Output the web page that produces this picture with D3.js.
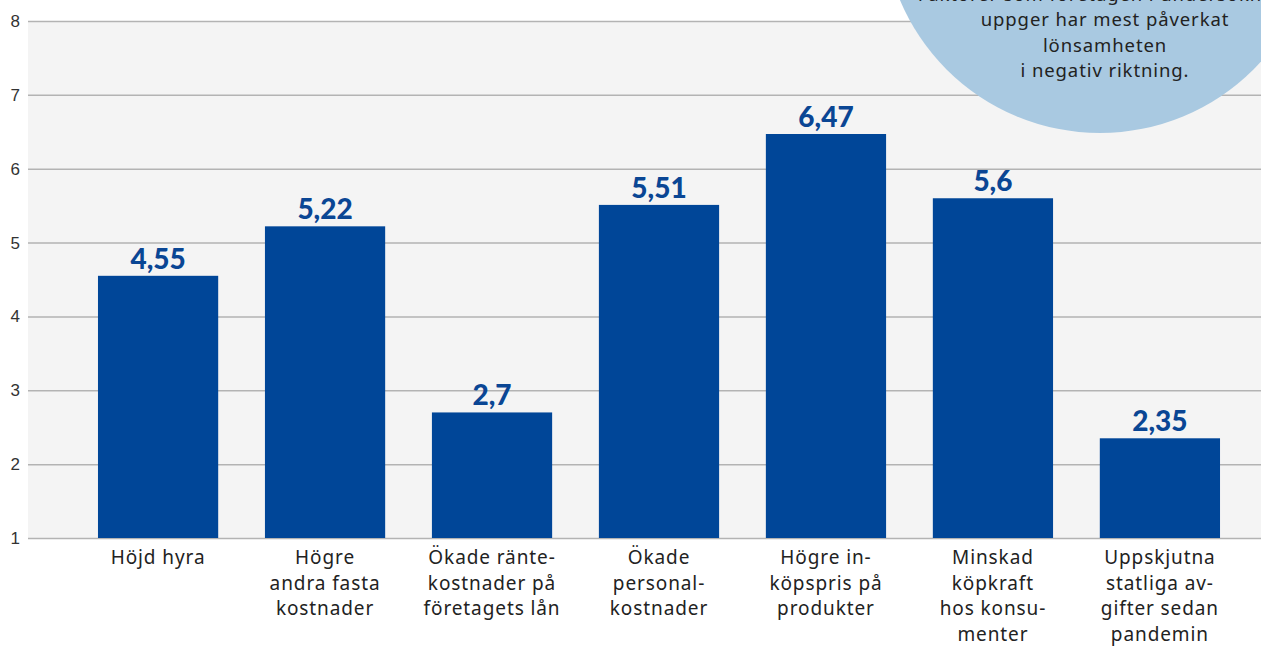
<!DOCTYPE html>
<html>
<head>
<meta charset="utf-8">
<script src="https://cdn.jsdelivr.net/npm/d3@7"></script>
<style>
  body { margin: 0; background: #fff; }
  svg { display: block; font-family: 'Noto Sans', Lato, sans-serif; }
</style>
</head>
<body>
<svg id="chart"></svg>
<script>
const categories = [
  ['Höjd hyra'],
  ['Högre', 'andra fasta', 'kostnader'],
  ['Ökade ränte-', 'kostnader på', 'företagets lån'],
  ['Ökade', 'personal-', 'kostnader'],
  ['Högre in-', 'köpspris på', 'produkter'],
  ['Minskad', 'köpkraft', 'hos konsu-', 'menter'],
  ['Uppskjutna', 'statliga av-', 'gifter sedan', 'pandemin']
]
const values = [4.55, 5.22, 2.7, 5.51, 6.47, 5.6, 2.35]
const yTicks = [1, 2, 3, 4, 5, 6, 7, 8]
const bubbleLines = ['Faktorer som företagen i undersökning', 'uppger har mest påverkat', 'lönsamheten', 'i negativ riktning.']

let width = 1261
let height = 648
let plotLeft = 28
let plotTop = 21
let plotBottom = 538

let svg = d3.select('#chart')
  .attr('width', width)
  .attr('height', height)

let ids = categories.map((c, i) => i)

/* Band scale for the bars */
let xScale = d3.scaleBand()
  .domain(ids)
  .range([74.6, 1243.4])
  .paddingInner(0.28)
  .paddingOuter(0.14)

let yScale = d3.scaleLinear()
  .domain([1, 8])
  .range([plotBottom, plotTop])

/* Plot background */
svg.append('rect')
  .attr('x', plotLeft)
  .attr('y', plotTop)
  .attr('width', width - plotLeft)
  .attr('height', plotBottom - plotTop)
  .attr('fill', '#f4f4f4')

/* y-axis with gridlines */
let yAxis = d3.axisLeft(yScale)
  .tickValues(yTicks)
  .tickSize(-(width - plotLeft))
  .tickFormat(d3.format('d'))

let gy = svg.append('g')
  .attr('transform', `translate(${plotLeft}, 0)`)
  .call(yAxis)
gy.select('.domain').remove()
gy.selectAll('.tick line')
  .attr('stroke', '#b3b3b3')
  .attr('stroke-width', 1.5)
gy.selectAll('.tick text')
  .attr('x', -8)
  .attr('fill', '#333')
  .style('font-size', '17px')

/* Bars */
svg.selectAll('rect.bar')
  .data(values)
  .enter()
  .append('rect')
    .attr('class', 'bar')
    .attr('x', (d, i) => xScale(i))
    .attr('y', d => yScale(d))
    .attr('width', xScale.bandwidth())
    .attr('height', d => plotBottom - yScale(d))
    .attr('fill', '#004698')

/* Value labels */
svg.selectAll('text.val')
  .data(values)
  .enter()
  .append('text')
    .attr('class', 'val')
    .attr('x', (d, i) => xScale(i) + xScale.bandwidth() / 2)
    .attr('y', d => yScale(d) - 7)
    .attr('text-anchor', 'middle')
    .attr('fill', '#0a4694')
    .style('font-family', 'Lato, sans-serif')
    .style('font-size', '28px')
    .style('font-weight', 900)
    .text(d => String(d).replace('.', ','))

/* Category labels */
let catG = svg.selectAll('text.cat')
  .data(categories)
  .enter()
  .append('text')
    .attr('class', 'cat')
    .attr('text-anchor', 'middle')
    .attr('fill', '#222')
    .style('font-size', '19px')
    .style('letter-spacing', '0.9px')

catG.selectAll('tspan')
  .data((d, i) => d.map(line => ({ line, i })))
  .enter()
  .append('tspan')
    .attr('x', d => xScale(d.i) + xScale.bandwidth() / 2)
    .attr('y', (d, j) => 564 + j * 25.7)
    .text(d => d.line)

/* Bubble in the top right corner */
svg.append('circle')
  .attr('cx', 1100)
  .attr('cy', -84)
  .attr('r', 217)
  .attr('fill', '#a9c9e1')

svg.append('text')
  .attr('text-anchor', 'middle')
  .attr('fill', '#222')
  .style('font-size', '18.5px')
  .style('letter-spacing', '0.9px')
  .selectAll('tspan')
  .data(bubbleLines)
  .enter()
  .append('tspan')
    .attr('x', 1105)
    .attr('y', (d, i) => 0.5 + i * 25.5)
    .text(d => d)
</script>
</body>
</html>
